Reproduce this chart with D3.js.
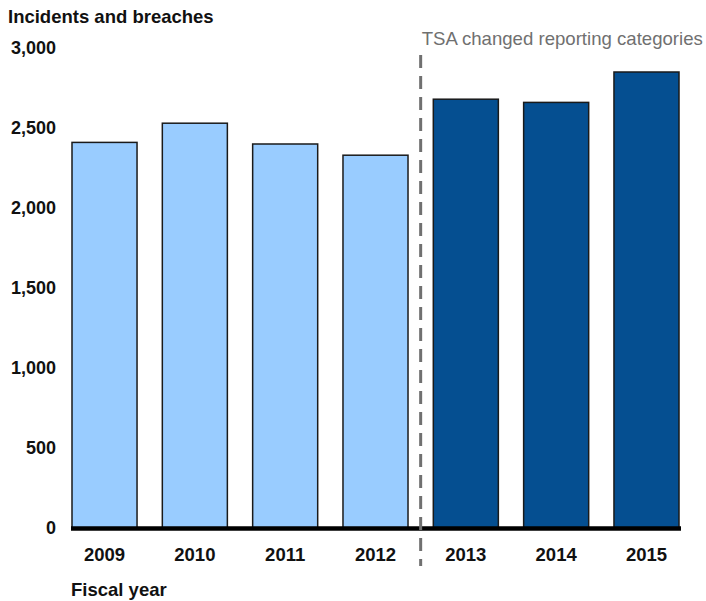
<!DOCTYPE html>
<html>
<head>
<meta charset="utf-8">
<script src="https://cdn.jsdelivr.net/npm/d3@7"></script>
<style>
  body { margin: 0; background: #fff; }
  svg { display: block; font-family: "Liberation Sans", Arial, sans-serif; }
</style>
</head>
<body>
<svg id="chart" width="706" height="601"></svg>
<script>
// values
const years = ["2009", "2010", "2011", "2012", "2013", "2014", "2015"]
const incidents = [2410, 2530, 2400, 2330, 2680, 2660, 2850]
const yTicks = [0, 500, 1000, 1500, 2000, 2500, 3000]
const changeAfter = "2012"

const width = 706
const height = 601
const margin = { left: 72, right: 27, top: 48, bottom: 73 }

const svg = d3.select("#chart")

const x = d3.scaleBand()
  .domain(years)
  .range([margin.left, width - margin.right])
  .paddingInner(0.28)
  .paddingOuter(0)

const y = d3.scaleLinear()
  .domain([0, 3000])
  .range([height - margin.bottom, margin.top])

const isNew = d => +d > +changeAfter

// y tick labels, no axis line
svg.append("g")
  .attr("transform", `translate(${margin.left - 16},0)`)
  .call(d3.axisLeft(y).tickValues(yTicks).tickSize(0).tickPadding(0).tickFormat(d3.format(",")))
  .call(g => g.select(".domain").remove())
  .call(g => g.selectAll("text")
    .attr("font-family", "Liberation Sans, Arial, sans-serif")
    .attr("font-size", 18)
    .attr("font-weight", "bold")
    .attr("fill", "#111"))

svg.append("text")
  .attr("x", 8)
  .attr("y", 23)
  .attr("font-size", 18.5)
  .attr("font-weight", "bold")
  .attr("fill", "#111")
  .text("Incidents and breaches")

// bars
svg.append("g")
  .selectAll("rect")
  .data(years.map((yr, i) => ({ yr, v: incidents[i] })))
  .join("rect")
  .attr("x", d => x(d.yr))
  .attr("y", d => y(d.v))
  .attr("width", x.bandwidth())
  .attr("height", d => y(0) - y(d.v))
  .attr("fill", d => isNew(d.yr) ? "#054f91" : "#99ccff")
  .attr("stroke", "#1a1a1a")
  .attr("stroke-width", 1.5)

// baseline
svg.append("line")
  .attr("x1", margin.left - 1)
  .attr("x2", x(years[years.length - 1]) + x.bandwidth() + 2)
  .attr("y1", y(0) + 0.5)
  .attr("y2", y(0) + 0.5)
  .attr("stroke", "#000")
  .attr("stroke-width", 4.5)

// year labels
svg.append("g")
  .attr("transform", `translate(0,${y(0)})`)
  .call(d3.axisBottom(x).tickSize(0).tickPadding(20))
  .call(g => g.select(".domain").remove())
  .call(g => g.selectAll("text")
    .attr("font-family", "Liberation Sans, Arial, sans-serif")
    .attr("font-size", 18.5)
    .attr("font-weight", "bold")
    .attr("fill", "#111"))

svg.append("text")
  .attr("x", margin.left - 1)
  .attr("y", 596)
  .attr("font-size", 18.5)
  .attr("font-weight", "bold")
  .attr("fill", "#111")
  .text("Fiscal year")

// reporting change marker
const lastOld = years.indexOf(changeAfter)
const splitX = (x(years[lastOld]) + x.bandwidth() + x(years[lastOld + 1])) / 2

svg.append("line")
  .attr("x1", splitX)
  .attr("x2", splitX)
  .attr("y1", 55)
  .attr("y2", 566)
  .attr("stroke", "#707070")
  .attr("stroke-width", 3)
  .attr("stroke-dasharray", "13,8")

svg.append("text")
  .attr("x", splitX + 1)
  .attr("y", 45)
  .attr("font-size", 18.6)
  .attr("fill", "#707070")
  .text("TSA changed reporting categories")
</script>
</body>
</html>
